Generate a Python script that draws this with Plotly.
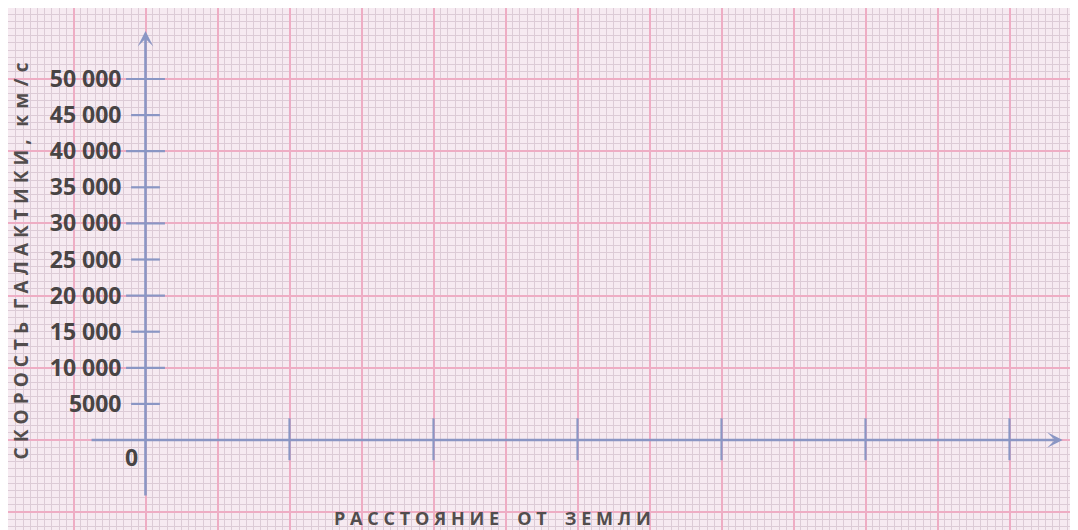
import plotly.graph_objects as go

# ---- data -------------------------------------------------------------
y_tick_vals = [5000, 10000, 15000, 20000, 25000, 30000, 35000, 40000, 45000, 50000]
y_tick_text = ["5000", "10 000", "15 000", "20 000", "25 000",
               "30 000", "35 000", "40 000", "45 000", "50 000"]
x_tick_vals = [2, 4, 6, 8, 10, 12]
origin_label = "0"
y_title_main = "СКОРОСТЬ ГАЛАКТИКИ,"
y_title_unit = "км/с"
x_title = "РАССТОЯНИЕ ОТ ЗЕМЛИ"

# ---- style ------------------------------------------------------------
# the page places the figure 8 px from the window's top-left corner
OFF = 8
W, H = 1078 - OFF, 530 - OFF
PX_X = 72.0        # pixels per x unit
PX_Y = 72.2        # pixels per 10 000 y units
X0_PIX, Y0_PIX = 145.5, 440.0      # window coordinates of the origin
x_range = [(OFF - X0_PIX) / PX_X, (1078 - X0_PIX) / PX_X]
y_range = [(Y0_PIX - 530) / PX_Y * 10000, (Y0_PIX - OFF) / PX_Y * 10000]


def px(xw):
    return (xw - OFF) / W


def py(yw):
    return (530 - yw) / H


BG = "#f6eaf1"
MAJOR = "#eeadc4"
MINOR = "#dccbd6"
AXIS = "#8a96c4"
TXT = "#484444"
FONT = "Open Sans"


def spaced(text, sep="\u2009", wsep="\u2002\u2002"):
    words = text.split(" ")
    return wsep.join(sep.join(list(w)) for w in words)


fig = go.Figure()

# y tick marks (longer at multiples of 10 000)
tx, ty = [], []
for v in y_tick_vals:
    half = 0.27 if v % 10000 == 0 else 0.2
    tx += [-half, half, None]
    ty += [v, v, None]
fig.add_trace(go.Scatter(x=tx, y=ty, mode="lines",
                         line=dict(color=AXIS, width=2.2),
                         hoverinfo="skip", showlegend=False, yaxis="y2"))

# x tick marks
xx, xy = [], []
for v in x_tick_vals:
    xx += [v, v, None]
    xy += [3000, -2800, None]
fig.add_trace(go.Scatter(x=xx, y=xy, mode="lines",
                         line=dict(color=AXIS, width=2.2),
                         hoverinfo="skip", showlegend=False, yaxis="y2"))

LS = "\u2009\u200a"
y_title_text = spaced(y_title_main, LS, "\u2002\u2009") + "\u2002\u2009" + \
    "\u2009\u2009".join(list(y_title_unit))

annotations = [
    # y axis with arrow
    dict(x=0, y=56650, ax=0, ay=-7900, xref="x", yref="y", axref="x", ayref="y",
         showarrow=True, arrowhead=3, arrowsize=1.0, arrowwidth=2.6,
         arrowcolor=AXIS, text=""),
    # x axis with arrow
    dict(x=12.74, y=0, ax=-0.77, ay=0, xref="x", yref="y", axref="x", ayref="y",
         showarrow=True, arrowhead=3, arrowsize=1.0, arrowwidth=2.6,
         arrowcolor=AXIS, text=""),
    dict(x=-0.2, y=-2350, xref="x", yref="y", text=origin_label, showarrow=False,
         xanchor="center", yanchor="middle",
         font=dict(family=FONT, size=23, color=TXT, weight=700)),
    dict(x=px(20.5), y=py(261), xref="paper", yref="paper",
         xanchor="center", yanchor="middle", borderpad=0,
         text=y_title_text, textangle=-90, showarrow=False,
         font=dict(family=FONT, size=19, color="#524d4d", weight=700)),
    dict(x=px(492), y=py(517.5), xref="paper", yref="paper",
         xanchor="center", yanchor="middle", borderpad=0,
         text=spaced(x_title, LS, "\u2002\u2002"), showarrow=False,
         font=dict(family=FONT, size=18, color="#524d4d", weight=700)),
]

fig.update_layout(
    width=W, height=H,
    margin=dict(l=0, r=0, t=0, b=0, pad=0),
    paper_bgcolor="white", plot_bgcolor=BG,
    showlegend=False,
    annotations=annotations,
    xaxis=dict(range=x_range, tick0=0, dtick=1, showgrid=True,
               gridcolor=MAJOR, gridwidth=2, zeroline=False,
               showticklabels=False, ticks="", showline=False,
               minor=dict(dtick=0.1, showgrid=True, gridcolor=MINOR, gridwidth=1),
               fixedrange=True),
    yaxis=dict(range=y_range, tick0=0, dtick=10000, showgrid=True,
               gridcolor=MAJOR, gridwidth=2, zeroline=False,
               showticklabels=False, ticks="", showline=False,
               minor=dict(dtick=1000, showgrid=True, gridcolor=MINOR, gridwidth=1),
               fixedrange=True),
    yaxis2=dict(range=y_range, overlaying="y", anchor="free",
                position=px(X0_PIX),
                tickvals=y_tick_vals, ticktext=y_tick_text,
                showgrid=False, zeroline=False, showline=False, ticks="",
                ticklabelstandoff=24,
                tickfont=dict(family=FONT, size=23, color=TXT, weight=700),
                fixedrange=True),
)

fig.write_html("out.html")
